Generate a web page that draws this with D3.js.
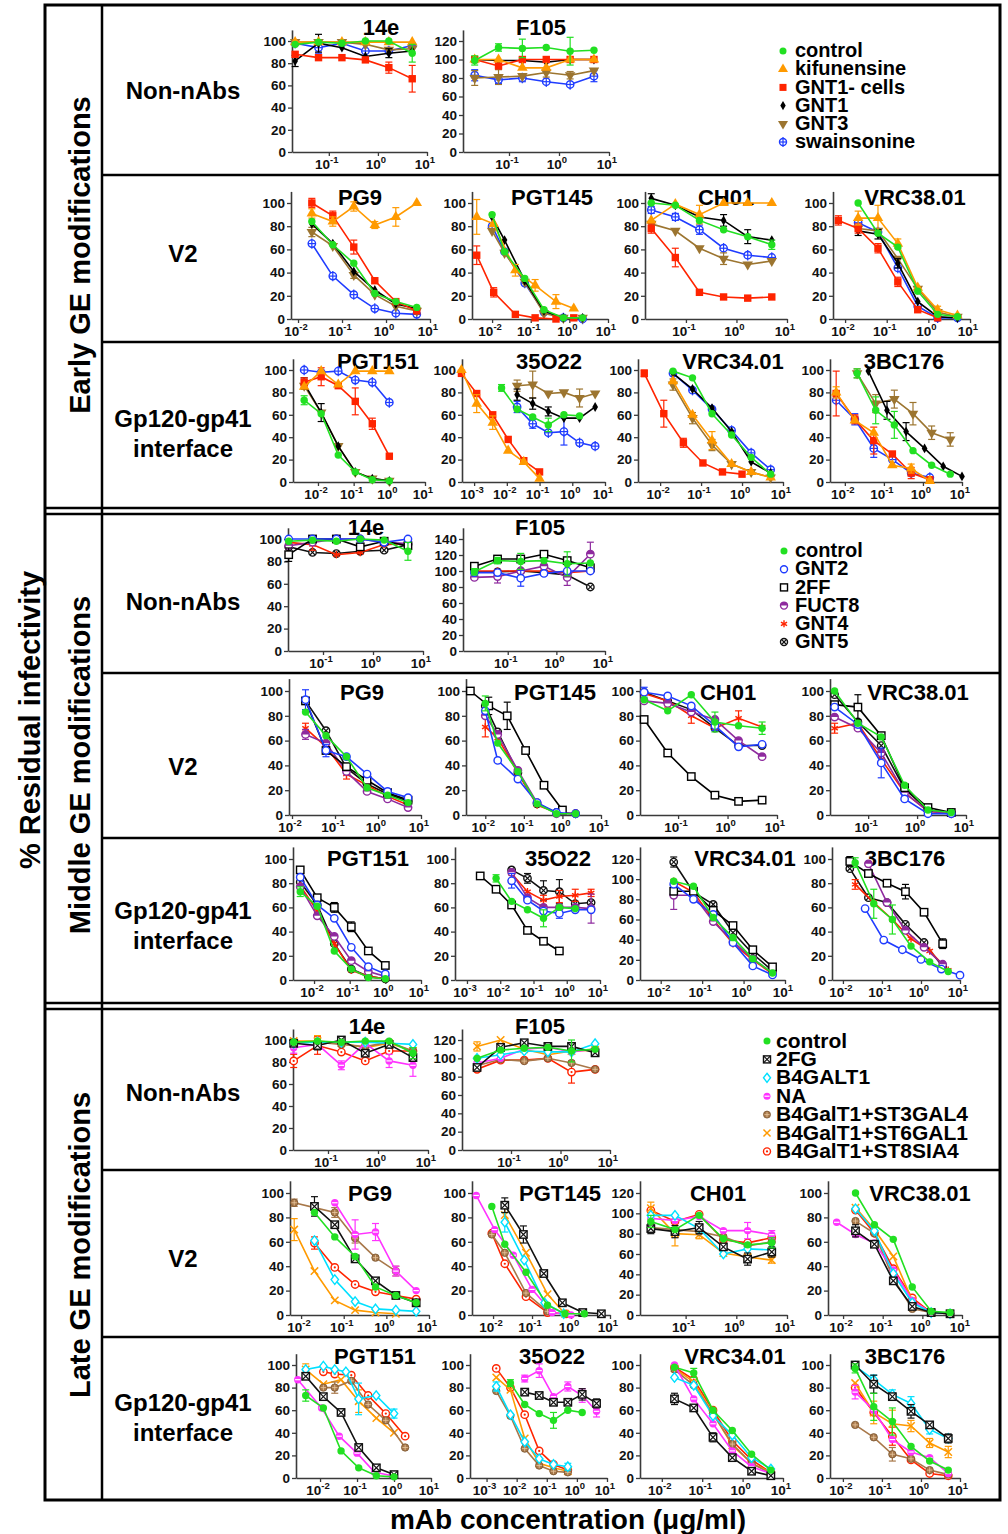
<!DOCTYPE html>
<html>
<head>
<meta charset="utf-8">
<script src="https://cdn.jsdelivr.net/npm/d3@7"></script>
<style>
body { margin: 0; background: #fff; }
text { font-family: "Liberation Sans", Arial, sans-serif; font-weight: bold; }
</style>
</head>
<body>
<script>
// dilution series used in most panels
var X6 = [0.0206, 0.0617, 0.185, 0.556, 1.67, 5];
var X6L = [0.0069, 0.0206, 0.0617, 0.185, 0.556, 1.67];
var X6P = [0.0041, 0.0123, 0.037, 0.111, 0.333, 1];

var earlyNames = ["control", "kifunensine", "GNT1- cells", "GNT1", "GNT3", "swainsonine"];
var middleNames = ["control", "GNT2", "2FF", "FUCT8", "GNT4", "GNT5"];
var lateNames = ["control", "2FG", "B4GALT1", "NA", "B4GalT1+ST3GAL4", "B4GalT1+ST6GAL1", "B4GalT1+ST8SIA4"];

// ---- early GE modifications ----
var e14e = [
  [X6, [97, 99, 98, 100, 100, 89], [0, 0, 0, 0, 0, 8]],
  [X6, [99, 99, 99, 99, 99, 99]],
  [X6, [88, 85, 85, 83, 76, 66], [0, 0, 0, 0, 5, 12]],
  [X6, [82, 98, 94, 86, 89, 91], [5, 8, 0, 0, 4, 0]],
  [X6, [99, 99, 99, 97, 92, 93]],
  [X6, [98, 94, 98, 91, 91, 96], [0, 5, 0, 0, 0, 0]]
];
var eF105 = [
  [X6, [99, 113, 112, 113, 109, 110], [5, 4, 10, 0, 15, 0]],
  [X6, [100, 100, 91, 91, 100, 100]],
  [X6, [100, 93, 100, 100, 100, 100]],
  [X6, [100, 99, 99, 97, 100, 100]],
  [X6, [80, 81, 82, 86, 83, 88], [8, 8, 0, 5, 4, 0]],
  [X6, [83, 78, 80, 76, 73, 82], [6, 4, 4, 0, 0, 6]]
];
var ePG9 = [
  [X6, [84, 64, 48, 22, 15, 10]],
  [X6, [91, 84, 97, 81, 88, 100], [4, 4, 4, 3, 8, 0]],
  [X6, [100, 89, 62, 33, 15, 7], [4, 4, 6, 0, 0, 0]],
  [X6, [82, 65, 41, 25, 13, 9]],
  [X6, [75, 63, 38, 21, 11, 7], [4, 0, 3, 0, 0, 0]],
  [X6, [65, 37, 21, 9, 5, 4]]
];
var ePGT145_xa = [0.004, 0.011, 0.04, 0.13, 0.45, 1.3];
var ePGT145_xb = [0.01, 0.021, 0.07, 0.22, 0.7, 2.2];
var ePGT145 = [
  [ePGT145_xb, [90, 58, 35, 8, 1, 1]],
  [ePGT145_xa, [88, 82, 42, 29, 15, 9], [15, 0, 5, 5, 6, 0]],
  [ePGT145_xa, [55, 23, 4, 1, 0, 1], [8, 4, 0, 0, 0, 0]],
  [ePGT145_xb, [88, 68, 33, 7, 1, 1]],
  [ePGT145_xb, [76, 57, 32, 5, 1, 1]],
  [ePGT145_xb, [80, 58, 31, 6, 1, 0]]
];
var eCH01 = [
  [X6, [100, 98, 85, 77, 71, 64], [0, 0, 0, 0, 0, 4]],
  [X6, [85, 99, 90, 100, 100, 100], [0, 0, 8, 0, 0, 0]],
  [X6, [78, 53, 23, 19, 18, 19], [4, 8, 0, 0, 0, 0]],
  [X6, [104, 98, 88, 85, 71, 68], [4, 0, 0, 5, 6, 0]],
  [X6, [82, 76, 61, 52, 47, 50], [0, 0, 0, 5, 0, 0]],
  [X6, [94, 88, 77, 61, 55, 53], [3, 3, 4, 0, 0, 0]]
];
var eVRC38 = [
  [X6, [100, 74, 62, 24, 4, 2]],
  [X6, [87, 87, 65, 27, 8, 3], [6, 11, 4, 0, 3, 0]],
  [X6L, [85, 78, 61, 32, 8, 1], [4, 4, 4, 4, 0, 0]],
  [X6, [76, 73, 48, 15, 2, 1], [4, 4, 4, 0, 0, 0]],
  [X6, [78, 76, 52, 26, 6, 2]],
  [X6, [83, 75, 44, 11, 1, 1]]
];
var ePGT151 = [
  [X6P, [73, 61, 24, 9, 2, 1], [4, 0, 0, 0, 0, 0]],
  [X6P, [85, 99, 87, 99, 99, 99]],
  [X6P, [89, 94, 86, 72, 52, 23], [4, 8, 0, 12, 5, 0]],
  [X6P, [88, 62, 32, 9, 3, 1], [5, 8, 0, 0, 0, 0]],
  [X6P, [86, 62, 32, 9, 3, 1]],
  [X6P, [100, 98, 99, 91, 89, 71]]
];
var e35O22_xr = [0.00041, 0.0012, 0.0037, 0.011, 0.033, 0.1];
var e35O22 = [
  [X6L, [84, 65, 58, 51, 60, 59], [3, 0, 0, 6, 0, 0]],
  [e35O22_xr, [100, 70, 53, 28, 18, 3], [0, 8, 6, 0, 0, 0]],
  [e35O22_xr, [97, 79, 60, 38, 19, 9]],
  [X6, [78, 70, 63, 57, 57, 67], [5, 5, 4, 0, 0, 0]],
  [X6, [86, 87, 79, 80, 75, 79], [5, 12, 0, 0, 8, 0]],
  [X6, [67, 52, 44, 45, 35, 32], [5, 4, 0, 12, 0, 0]]
];
var eVRC34 = [
  [X6, [99, 93, 61, 42, 22, 7]],
  [X6, [90, 60, 37, 16, 9, 4], [0, 0, 8, 0, 0, 0]],
  [X6P, [97, 61, 35, 17, 9, 7], [3, 12, 4, 0, 0, 0]],
  [X6, [97, 83, 66, 45, 18, 8]],
  [X6, [87, 57, 33, 16, 9, 4], [5, 5, 5, 0, 0, 0]],
  [X6, [97, 82, 65, 46, 26, 11]]
];
var e3BC176_xlo = [0.006, 0.018, 0.055, 0.165, 0.5, 1.5];
var e3BC176_xk = [0.04, 0.12, 0.37, 1.1, 3.3, 10];
var e3BC176 = [
  [X6, [97, 64, 51, 28, 15, 7], [4, 12, 12, 0, 0, 0]],
  [e3BC176_xlo, [80, 55, 44, 15, 12, 1], [5, 0, 0, 0, 4, 0]],
  [e3BC176_xlo, [79, 56, 37, 25, 8, 2], [20, 4, 12, 0, 5, 0]],
  [e3BC176_xk, [99, 64, 45, 30, 14, 5], [0, 8, 8, 0, 0, 0]],
  [X6, [97, 70, 74, 61, 44, 38], [4, 8, 8, 10, 6, 6]],
  [e3BC176_xlo, [73, 56, 30, 20, 8, 4], [0, 5, 8, 0, 0, 0]]
];

// ---- middle GE modifications ----
var m14e = [
  [X6, [98, 99, 98, 100, 99, 89], [0, 0, 0, 0, 0, 8]],
  [X6, [100, 100, 100, 100, 97, 100]],
  [X6, [86, 100, 100, 93, 98, 94], [6, 0, 0, 0, 0, 0]],
  [X6, [94, 97, 100, 100, 97, 96]],
  [X6, [97, 95, 86, 88, 95, 96], [0, 5, 0, 0, 0, 0]],
  [X6, [93, 88, 87, 89, 90, 95]]
];
var mF105 = [
  [X6, [99, 113, 112, 113, 109, 110], [4, 4, 10, 0, 15, 0]],
  [X6, [98, 98, 91, 97, 100, 100], [0, 0, 10, 0, 0, 0]],
  [X6, [106, 115, 115, 121, 113, 104]],
  [X6, [92, 93, 100, 106, 92, 121], [0, 8, 0, 0, 10, 15]],
  [X6, [100, 100, 100, 100, 98, 100]],
  [X6, [99, 99, 100, 98, 95, 80]]
];
var mPG9 = [
  [X6, [83, 64, 47, 22, 16, 10]],
  [X6, [93, 52, 47, 33, 19, 14], [8, 5, 0, 0, 0, 0]],
  [X6, [92, 52, 39, 28, 18, 12]],
  [X6, [65, 58, 35, 19, 13, 6], [4, 0, 0, 0, 0, 0]],
  [X6, [70, 55, 33, 24, 15, 8], [4, 0, 4, 0, 0, 0]],
  [X6, [92, 68, 38, 25, 17, 11]]
];
var mPGT145_xb = [0.01, 0.021, 0.07, 0.22, 0.7, 2.2];
var mPGT145 = [
  [mPGT145_xb, [90, 58, 35, 9, 1, 1], [6, 0, 0, 0, 0, 0]],
  [mPGT145_xb, [84, 44, 29, 10, 2, 1]],
  [X6P, [100, 88, 80, 52, 24, 4], [0, 7, 11, 0, 0, 0]],
  [mPGT145_xb, [80, 65, 36, 10, 1, 1]],
  [mPGT145_xb, [71, 62, 34, 8, 2, 1], [8, 0, 0, 0, 0, 0]],
  [mPGT145_xb, [88, 67, 34, 9, 2, 1]]
];
var mCH01 = [
  [X6, [93, 84, 97, 75, 72, 70], [0, 0, 0, 8, 0, 5]],
  [X6, [99, 96, 88, 72, 55, 57], [4, 0, 0, 4, 0, 0]],
  [X6, [77, 50, 31, 16, 11, 12]],
  [X6, [92, 90, 83, 77, 60, 47]],
  [X6, [98, 92, 80, 70, 78, 71], [0, 5, 6, 0, 6, 0]],
  [X6, [99, 92, 85, 70, 56, 56]]
];
var mVRC38 = [
  [X6, [100, 74, 63, 24, 4, 2]],
  [X6, [87, 73, 42, 13, 1, 1], [0, 0, 12, 0, 0, 0]],
  [X6, [89, 87, 64, 22, 6, 2], [0, 10, 0, 0, 0, 0]],
  [X6, [79, 70, 50, 18, 3, 1]],
  [X6, [70, 74, 45, 18, 3, 1], [4, 0, 0, 0, 0, 0]],
  [X6, [97, 75, 56, 21, 4, 2]]
];
var mPGT151 = [
  [X6P, [73, 61, 24, 9, 2, 1], [4, 0, 0, 0, 0, 0]],
  [X6P, [85, 62, 51, 27, 11, 5]],
  [X6P, [91, 68, 60, 44, 24, 12], [0, 0, 4, 4, 0, 0]],
  [X6P, [77, 53, 36, 16, 7, 3]],
  [X6P, [78, 57, 30, 8, 3, 1]],
  [X6P, [81, 62, 30, 9, 3, 1]]
];
var m35O22_x2ff = [0.0025, 0.0075, 0.022, 0.066, 0.2, 0.6];
var m35O22_xg = [0.0075, 0.022, 0.066, 0.2, 0.6, 1.8];
var m35O22_xo = [0.022, 0.066, 0.2, 0.6, 1.8, 5.4];
var m35O22 = [
  [m35O22_xg, [84, 65, 58, 51, 60, 59], [3, 0, 0, 7, 0, 0]],
  [m35O22_xo, [82, 66, 57, 55, 58, 58], [6, 0, 0, 4, 0, 0]],
  [m35O22_x2ff, [86, 75, 62, 41, 32, 24]],
  [m35O22_xo, [89, 68, 60, 60, 60, 59], [0, 0, 0, 0, 0, 12]],
  [m35O22_xo, [88, 73, 66, 69, 70, 72], [0, 0, 4, 5, 5, 3]],
  [m35O22_xo, [91, 84, 74, 73, 63, 64], [0, 4, 8, 10, 0, 0]]
];
var mVRC34 = [
  [X6, [98, 93, 62, 42, 21, 7]],
  [X6, [95, 80, 65, 37, 14, 5]],
  [X6, [88, 88, 69, 54, 30, 13]],
  [X6, [84, 84, 58, 38, 21, 7], [14, 0, 0, 0, 0, 0]],
  [X6, [98, 87, 60, 36, 20, 6]],
  [X6, [117, 87, 75, 47, 26, 9], [5, 0, 0, 0, 0, 0]]
];
var m3BC176_xs = [0.015, 0.045, 0.135, 0.4, 1.2, 3.6];
var m3BC176 = [
  [X6, [97, 63, 50, 28, 15, 7], [4, 12, 12, 0, 0, 0]],
  [[0.037, 0.111, 0.333, 1, 3.33, 10], [59, 33, 25, 17, 9, 4]],
  [m3BC176_xs, [98, 88, 80, 73, 56, 30], [4, 0, 0, 6, 0, 4]],
  [[0.045, 0.135, 0.4, 1.2, 3.6], [96, 64, 41, 27, 13]],
  [X6, [79, 64, 50, 34, 24, 8], [4, 0, 0, 0, 0, 0]],
  [m3BC176_xs, [92, 68, 64, 46, 31, 11]]
];

// ---- late GE modifications ----
var l14e = [
  [X6, [98, 99, 98, 99, 99, 88], [0, 0, 0, 0, 0, 5]],
  [X6, [97, 95, 100, 88, 96, 84], [0, 4, 0, 0, 0, 0]],
  [X6, [97, 98, 98, 98, 97, 96]],
  [X6, [93, 96, 77, 97, 81, 77], [5, 0, 4, 0, 6, 10]],
  [X6, [98, 98, 96, 94, 98, 90]],
  [X6, [99, 99, 97, 93, 97, 90], [0, 5, 0, 0, 0, 0]],
  [X6, [81, 95, 89, 81, 90, 90], [6, 8, 0, 0, 0, 0]]
];
var lF105 = [
  [X6, [100, 109, 111, 112, 108, 110], [0, 0, 0, 0, 12, 0]],
  [X6, [90, 112, 117, 113, 113, 106]],
  [X6, [100, 104, 108, 107, 107, 116]],
  [X6, [95, 100, 110, 112, 107, 110]],
  [X6, [92, 99, 97, 100, 95, 88]],
  [X6, [113, 120, 110, 104, 108, 109], [5, 0, 0, 0, 0, 0]],
  [X6, [88, 98, 98, 100, 85, 88], [0, 0, 0, 0, 12, 0]]
];
var lPG9 = [
  [X6, [84, 64, 48, 23, 16, 10]],
  [X6, [89, 74, 46, 28, 16, 10], [8, 0, 0, 0, 0, 0]],
  [X6, [61, 29, 11, 5, 4, 3]],
  [[0.0617, 0.185, 0.556, 1.67, 5], [92, 66, 68, 36, 20], [0, 12, 7, 4, 0]],
  [X6L, [92, 88, 84, 63, 47, 36], [3, 0, 4, 4, 0, 4]],
  [X6L, [70, 36, 12, 4, 2, 1], [9, 0, 0, 0, 0, 0]],
  [X6, [59, 39, 25, 19, 16, 13], [5, 0, 0, 0, 0, 0]]
];
var lPGT145 = [
  [[0.0093, 0.02, 0.07, 0.25, 0.7, 2.2], [89, 58, 35, 8, 1, 1]],
  [[0.02, 0.06, 0.2, 0.6, 2, 6], [90, 66, 34, 10, 2, 1], [6, 7, 0, 0, 0, 0]],
  [[0.02, 0.063, 0.21, 0.65], [76, 45, 10, 1], [8, 0, 0, 0]],
  [[0.0037, 0.011, 0.033, 0.1, 0.33, 1], [98, 70, 49, 21, 2, 0]],
  [[0.0093, 0.02, 0.07, 0.25], [66, 51, 18, 3]],
  [[0.02, 0.07, 0.25, 0.7], [82, 51, 17, 1], [6, 0, 0, 0]],
  [[0.0093, 0.02, 0.07, 0.25, 0.75], [67, 42, 15, 2, 1]]
];
var lCH01 = [
  [X6, [92, 84, 98, 75, 69, 71], [6, 0, 0, 0, 0, 5]],
  [X6, [85, 82, 86, 67, 55, 62], [5, 6, 6, 0, 6, 5]],
  [X6, [98, 98, 85, 60, 65, 64]],
  [X6, [95, 93, 97, 83, 83, 79], [0, 0, 0, 0, 8, 4]],
  [X6, [86, 84, 82, 77, 68, 72]],
  [X6, [105, 80, 79, 61, 57, 54], [6, 12, 4, 0, 0, 3]],
  [X6, [103, 92, 99, 74, 71, 76]]
];
var lVRC38 = [
  [X6, [100, 74, 62, 23, 3, 2]],
  [X6, [69, 58, 28, 7, 2, 1], [5, 0, 0, 0, 0, 0]],
  [X6, [87, 69, 34, 10, 2, 1]],
  [X6L, [76, 66, 59, 37, 12, 2]],
  [X6, [77, 67, 30, 5, 2, 1]],
  [X6, [88, 70, 48, 12, 2, 1]],
  [X6, [86, 67, 38, 14, 2, 1]]
];
var lPGT151_xr = [0.0123, 0.025, 0.07, 0.2, 0.6, 2];
var lPGT151 = [
  [X6P, [73, 62, 24, 9, 2, 1], [5, 0, 0, 0, 0, 0]],
  [X6P, [90, 72, 58, 27, 9, 3]],
  [[0.0041, 0.0123, 0.025, 0.05, 0.11, 0.33, 1], [96, 99, 96, 94, 70, 73, 57], [0, 0, 0, 0, 14, 0, 4]],
  [[0.0025, 0.011, 0.033, 0.1, 0.3, 0.9], [87, 62, 37, 22, 5, 2]],
  [lPGT151_xr, [80, 80, 86, 65, 51, 27], [0, 5, 0, 0, 0, 0]],
  [X6P, [96, 83, 87, 68, 53, 40], [5, 0, 0, 10, 0, 0]],
  [lPGT151_xr, [94, 92, 91, 73, 57, 37]]
];
var l35O22_xr = [0.0021, 0.0062, 0.0185, 0.056, 0.167, 0.5];
var l35O22_xm = [0.0185, 0.056, 0.167, 0.5, 1.5, 4.5];
var l35O22 = [
  [[0.0062, 0.0185, 0.056, 0.167, 0.5, 1.5], [84, 65, 57, 51, 60, 58], [3, 0, 0, 7, 0, 0]],
  [l35O22_xm, [76, 73, 67, 67, 74, 66], [0, 0, 0, 0, 5, 4]],
  [l35O22_xr, [81, 56, 32, 17, 12, 10], [4, 0, 0, 0, 0, 3]],
  [l35O22_xm, [88, 95, 72, 81, 73, 59], [3, 6, 0, 4, 6, 5]],
  [l35O22_xr, [77, 55, 26, 11, 6, 5]],
  [l35O22_xr, [89, 78, 35, 13, 9, 6]],
  [l35O22_xr, [97, 80, 56, 24, 12, 7]]
];
var lVRC34 = [
  [X6, [98, 93, 60, 42, 21, 7], [0, 4, 0, 0, 0, 0]],
  [X6, [70, 62, 36, 18, 6, 2], [5, 0, 4, 0, 0, 0]],
  [X6, [89, 82, 55, 38, 18, 8]],
  [X6, [100, 70, 48, 24, 10, 4]],
  [X6, [96, 82, 57, 30, 13, 4]],
  [X6, [97, 85, 57, 29, 13, 5]],
  [X6, [98, 87, 60, 33, 16, 5]]
];
var l3BC176 = [
  [X6, [97, 63, 50, 28, 15, 7], [4, 12, 12, 0, 0, 0]],
  [X6, [100, 83, 72, 59, 47, 35], [0, 8, 0, 6, 0, 4]],
  [X6, [99, 87, 74, 66, 43, 35], [0, 4, 4, 6, 4, 0]],
  [X6, [76, 60, 34, 23, 18, 4], [6, 0, 0, 0, 0, 0]],
  [X6, [47, 36, 21, 17, 7, 3], [0, 0, 6, 0, 0, 0]],
  [X6, [84, 58, 48, 46, 31, 23], [0, 10, 12, 5, 4, 5]],
  [X6, [80, 58, 37, 16, 4, 2], [0, 0, 8, 0, 0, 0]]
];

// series styles per group
var groupNames = [earlyNames, middleNames, lateNames];
var groupColors = [
  ["#22e022", "#ff9a00", "#ff2400", "#000000", "#9c7530", "#1f3cff"],
  ["#22e022", "#1f3cff", "#000000", "#8e2a9e", "#ff2400", "#111111"],
  ["#22e022", "#111111", "#00e0ff", "#ff33ff", "#a8784a", "#ff9a00", "#ff2400"]
];
var groupMarks = [
  ["dot", "tri", "sq", "dia", "tridn", "crossO"],
  ["dot", "O", "sqO", "half", "ast", "xO"],
  ["dot", "xSq", "diaO", "halfM", "hatch", "x", "dotO"]
];

// panel layout: row, title, y-axis x, x of 10^1, log10 of left end, title x, top tick, data, group
var panels = [
  [0, "14e", 292, 427, -1.75, 381, 100, e14e, 0],
  [0, "F105", 463, 609, -1.92, 541, 120, eF105, 0],
  [1, "PG9", 291, 430, -2.16, 360, 100, ePG9, 0],
  [1, "PGT145", 472, 608, -2.52, 552, 100, ePGT145, 0],
  [1, "CH01", 645, 787, -1.81, 726, 100, eCH01, 0],
  [1, "VRC38.01", 833, 970, -2.29, 915, 100, eVRC38, 0],
  [2, "PGT151", 293, 425, -2.7, 378, 100, ePGT151, 0],
  [2, "35O22", 462, 605, -3.37, 549, 100, e35O22, 0],
  [2, "VRC34.01", 638, 783, -2.54, 733, 100, eVRC34, 0],
  [2, "3BC176", 830, 962, -2.38, 904, 100, e3BC176, 0],
  [3, "14e", 288, 423, -1.7, 366, 100, m14e, 1],
  [3, "F105", 463, 605, -1.92, 540, 140, mF105, 1],
  [4, "PG9", 289, 421, -2.07, 362, 100, mPG9, 1],
  [4, "PGT145", 466, 601, -2.5, 555, 100, mPGT145, 1],
  [4, "CH01", 640, 777, -1.77, 728, 100, mCH01, 1],
  [4, "VRC38.01", 830, 966, -1.78, 918, 100, mVRC38, 1],
  [5, "PGT151", 293, 421, -2.59, 368, 100, mPGT151, 1],
  [5, "35O22", 455, 600, -3.36, 558, 100, m35O22, 1],
  [5, "VRC34.01", 640, 785, -2.5, 745, 120, mVRC34, 1],
  [5, "3BC176", 832, 960, -2.28, 905, 100, m3BC176, 1],
  [6, "14e", 293, 428, -1.7, 367, 100, l14e, 2],
  [6, "F105", 462, 610, -1.99, 540, 120, lF105, 2],
  [7, "PG9", 290, 429, -2.26, 370, 100, lPG9, 2],
  [7, "PGT145", 472, 610, -2.54, 560, 100, lPGT145, 2],
  [7, "CH01", 640, 787, -1.9, 718, 120, lCH01, 2],
  [7, "VRC38.01", 828, 962, -2.38, 920, 100, lVRC38, 2],
  [8, "PGT151", 296, 431, -2.65, 375, 100, lPGT151, 2],
  [8, "35O22", 470, 607, -3.55, 552, 100, l35O22, 2],
  [8, "VRC34.01", 640, 783, -2.54, 735, 100, lVRC34, 2],
  [8, "3BC176", 830, 960, -2.33, 905, 100, l3BC176, 2]
];
var rowBase = [152, 319, 482, 651, 815, 980, 1150, 1315, 1478];
var rowTopTick = [41, 203, 370, 539, 691, 859, 1040, 1193, 1365];
var rowTitleY = [27, 197, 361, 527, 692, 858, 1026, 1193, 1356];

var svg = d3.select("body").append("svg")
    .attr("width", 1008)
    .attr("height", 1534);
svg.append("rect").attr("width", 1008).attr("height", 1534).attr("fill", "#fff");

function mark(g, t, c, x, y, s) {
    s = s || 1;
    var r = 3.7 * s;
    var m = g.append("g").attr("transform", "translate(" + x + "," + y + ")");
    var open = function (el) { return el.attr("fill", "#fff").attr("stroke", c).attr("stroke-width", 1.4); };
    var ln = function (x1, y1, x2, y2, w) {
        m.append("line").attr("x1", x1).attr("y1", y1).attr("x2", x2).attr("y2", y2)
            .attr("stroke", c).attr("stroke-width", w || 1.2);
    };
    if (t == "dot") {
        m.append("circle").attr("r", r).attr("fill", c);
    } else if (t == "tri") {
        m.append("path").attr("d", d3.symbol(d3.symbolTriangle, 48 * s * s)()).attr("fill", c);
    } else if (t == "tridn") {
        m.append("path").attr("d", d3.symbol(d3.symbolTriangle, 48 * s * s)()).attr("fill", c).attr("transform", "rotate(180)");
    } else if (t == "sq") {
        m.append("rect").attr("x", -r).attr("y", -r).attr("width", 2 * r).attr("height", 2 * r).attr("fill", c);
    } else if (t == "dia") {
        m.append("path").attr("d", d3.symbol(d3.symbolDiamond, 28 * s * s)()).attr("fill", c);
    } else if (t == "crossO") {
        open(m.append("circle").attr("r", r));
        ln(0, -r - 1.5, 0, r + 1.5);
        ln(-r, 0, r, 0);
    } else if (t == "O") {
        open(m.append("circle").attr("r", r));
    } else if (t == "sqO") {
        open(m.append("rect").attr("x", -r).attr("y", -r).attr("width", 2 * r).attr("height", 2 * r));
    } else if (t == "half") {
        open(m.append("circle").attr("r", r));
        m.append("path").attr("d", "M" + (-r) + ",0A" + r + "," + r + " 0 0 1 " + r + ",0Z").attr("fill", c);
    } else if (t == "ast") {
        ln(0, -r, 0, r, 1.4);
        ln(-r * 0.87, -r / 2, r * 0.87, r / 2, 1.4);
        ln(-r * 0.87, r / 2, r * 0.87, -r / 2, 1.4);
    } else if (t == "xO") {
        open(m.append("circle").attr("r", r));
        ln(-r * 0.7, -r * 0.7, r * 0.7, r * 0.7);
        ln(-r * 0.7, r * 0.7, r * 0.7, -r * 0.7);
    } else if (t == "xSq") {
        open(m.append("rect").attr("x", -r).attr("y", -r).attr("width", 2 * r).attr("height", 2 * r));
        ln(-r, -r, r, r);
        ln(-r, r, r, -r);
    } else if (t == "diaO") {
        open(m.append("path").attr("d", "M0," + (-r - 1) + "L" + r + ",0L0," + (r + 1) + "L" + (-r) + ",0Z"));
    } else if (t == "halfM") {
        m.append("circle").attr("r", r).attr("fill", c);
        m.append("line").attr("x1", -r + 1).attr("x2", r - 1).attr("stroke", "#fff").attr("stroke-width", 1.2);
    } else if (t == "hatch") {
        m.append("circle").attr("r", r).attr("fill", c).attr("stroke", "#7a5530").attr("stroke-width", 0.8);
        m.append("line").attr("x1", -r + 1).attr("x2", r - 1).attr("stroke", "#e8c8a0").attr("stroke-width", 0.8);
        m.append("line").attr("y1", -r + 1).attr("y2", r - 1).attr("stroke", "#e8c8a0").attr("stroke-width", 0.8);
    } else if (t == "x") {
        ln(-r, -r, r, r, 1.5);
        ln(-r, r, r, -r, 1.5);
    } else if (t == "dotO") {
        open(m.append("circle").attr("r", r));
        m.append("circle").attr("r", 1.1).attr("fill", c);
    }
}

function drawPanel(p) {
    var row = p[0], title = p[1], ax = p[2], rx = p[3], lo = p[4], tx = p[5], top = p[6], data = p[7], grp = p[8];
    var y0 = rowBase[row], yTick = rowTopTick[row];
    var x = d3.scaleLog().domain([Math.pow(10, lo), 10]).range([ax, rx]);
    var ymax = top * 1.1;
    var y = d3.scaleLinear().domain([0, ymax]).range([y0, y0 - (y0 - yTick) * 1.1]);
    var g = svg.append("g");

    // y axis
    var ya = g.append("g").attr("transform", "translate(" + ax + ",0)")
        .call(d3.axisLeft(y).tickValues(d3.range(0, top + 1, 20)).tickSize(4).tickSizeOuter(0).tickPadding(2));
    // x axis
    var decs = d3.range(Math.ceil(lo), 2);
    var xa = g.append("g").attr("transform", "translate(0," + y0 + ")")
        .call(d3.axisBottom(x).tickValues(decs.map(function (e) { return Math.pow(10, e); }))
            .tickSize(4).tickSizeOuter(0).tickFormat(""));
    [ya, xa].forEach(function (a) {
        a.select(".domain").attr("stroke", "#3a3a3a").attr("stroke-width", 1.6);
        a.selectAll(".tick line").attr("stroke", "#3a3a3a").attr("stroke-width", 1.3);
    });
    ya.selectAll(".tick text").attr("font-size", 13.5).attr("fill", "#111")
        .style("font-family", "'Liberation Sans', Arial, sans-serif").style("font-weight", "bold");
    decs.forEach(function (e) {
        var t = g.append("text").attr("x", x(Math.pow(10, e)) - 2).attr("y", y0 + 17)
            .attr("text-anchor", "middle").attr("font-size", 13.5).attr("fill", "#111");
        t.append("tspan").text("10");
        t.append("tspan").attr("dy", -6).attr("font-size", 9.5).text(String(e));
    });

    // title
    g.append("text").attr("x", tx).attr("y", rowTitleY[row] + 8).attr("text-anchor", "middle")
        .attr("font-size", 22).attr("fill", "#000").text(title);

    // series, control on top
    var colors = groupColors[grp], marks = groupMarks[grp];
    var order = d3.range(data.length).reverse();
    var line = d3.line().x(function (d) { return x(d[0]); }).y(function (d) { return y(d[1]); });
    order.forEach(function (i) {
        var s = data[i];
        var pts = s[0].slice(0, s[1].length).map(function (xv, k) { return [xv, s[1][k], s[2] ? s[2][k] : 0]; });
        var c = colors[i];
        var sg = g.append("g");
        sg.append("path").attr("d", line(pts)).attr("fill", "none").attr("stroke", c).attr("stroke-width", 1.6);
        pts.forEach(function (d) {
            if (d[2] > 0) {
                var px = x(d[0]), ya1 = y(d[1] + d[2]), yb = y(Math.max(0, d[1] - d[2]));
                sg.append("line").attr("x1", px).attr("x2", px).attr("y1", ya1).attr("y2", yb)
                    .attr("stroke", c).attr("stroke-width", 1.2);
                [ya1, yb].forEach(function (yy) {
                    sg.append("line").attr("x1", px - 3.5).attr("x2", px + 3.5).attr("y1", yy).attr("y2", yy)
                        .attr("stroke", c).attr("stroke-width", 1.2);
                });
            }
        });
        pts.forEach(function (d) {
            mark(sg, marks[i], c, x(d[0]), y(d[1]), 1);
        });
    });
}

panels.forEach(drawPanel);

// legends
var legendPos = [[783, 795, 50, 18.2, 20], [784, 795, 550, 18.2, 20], [767, 776, 1040, 18.4, 21]];
legendPos.forEach(function (lp, gi) {
    var names = groupNames[gi];
    names.forEach(function (n, i) {
        var yy = lp[2] + i * lp[3];
        mark(svg, groupMarks[gi][i], groupColors[gi][i], lp[0], yy + 1, 0.95);
        svg.append("text").attr("x", lp[1]).attr("y", yy).attr("dy", "0.36em")
            .attr("font-size", lp[4]).attr("fill", "#000").text(n);
    });
});

// frame
var frame = svg.append("g").attr("stroke", "#000").attr("fill", "none");
frame.append("rect").attr("x", 45).attr("y", 5).attr("width", 955).attr("height", 1495).attr("stroke-width", 3);
frame.append("line").attr("x1", 102).attr("x2", 102).attr("y1", 5).attr("y2", 1500).attr("stroke-width", 2.5);
[175, 342, 673, 838, 1170, 1337].forEach(function (yy) {
    frame.append("line").attr("x1", 102).attr("x2", 1000).attr("y1", yy).attr("y2", yy).attr("stroke-width", 2.5);
});
[508, 514, 1003, 1009].forEach(function (yy) {
    frame.append("line").attr("x1", 45).attr("x2", 1000).attr("y1", yy).attr("y2", yy).attr("stroke-width", 2.5);
});

// row labels
var rowLabelY = [90, 253, [418, 448], 601, 766, [910, 940], 1092, 1258, [1402, 1432]];
rowLabelY.forEach(function (v, i) {
    var kind = i % 3;
    var lines = kind == 0 ? ["Non-nAbs"] : kind == 1 ? ["V2"] : ["Gp120-gp41", "interface"];
    var ys = Array.isArray(v) ? v : [v];
    lines.forEach(function (t, k) {
        svg.append("text").attr("x", 183).attr("y", ys[k]).attr("dy", "0.36em").attr("text-anchor", "middle")
            .attr("font-size", 24).attr("fill", "#000").text(t);
    });
});

// section labels
[["Early GE modifications", 255], ["Middle GE modifications", 765], ["Late GE modifications", 1245]].forEach(function (s) {
    svg.append("text").attr("transform", "translate(90," + s[1] + ") rotate(-90)").attr("text-anchor", "middle")
        .attr("font-size", 29).attr("fill", "#000").text(s[0]);
});
svg.append("text").attr("transform", "translate(40,720) rotate(-90)").attr("text-anchor", "middle")
    .attr("font-size", 29).attr("fill", "#000").text("% Residual infectivity");
svg.append("text").attr("x", 568).attr("y", 1529).attr("text-anchor", "middle")
    .attr("font-size", 28).attr("fill", "#000").text("mAb concentration (μg/ml)");
</script>
</body>
</html>
